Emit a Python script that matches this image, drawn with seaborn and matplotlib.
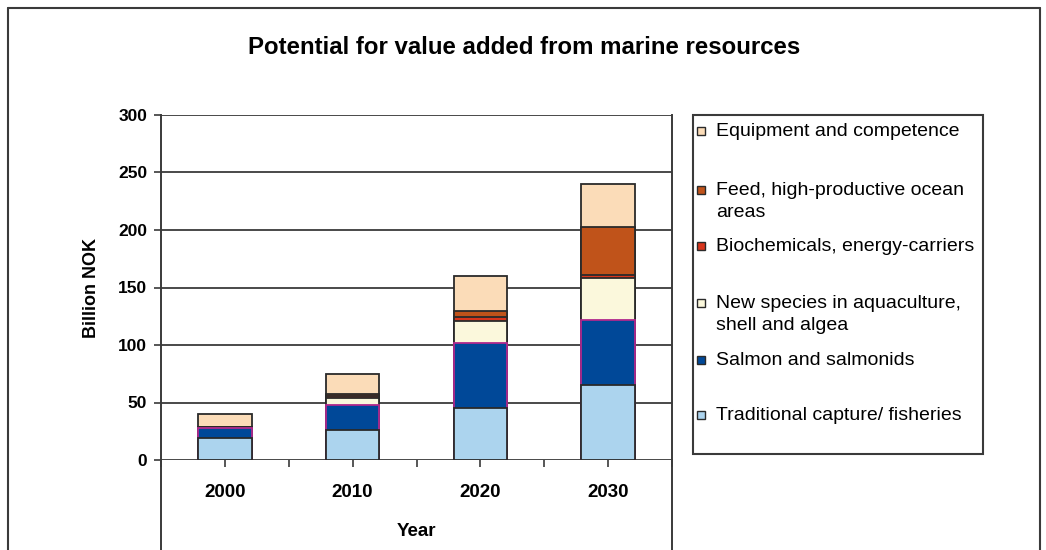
import matplotlib
matplotlib.use("Agg")
import matplotlib.pyplot as plt
from matplotlib.lines import Line2D
from matplotlib.patches import Rectangle
import pandas as pd
import seaborn as sns

# ── Data (Billion NOK) ──────────────────────────────────────────────────────
years = ["2000", "2010", "2020", "2030"]
traditional = [19, 26, 45, 65]
salmon = [9, 22, 57, 57]
new_species = [1, 6, 19, 36]
biochem = [0, 2, 3, 3]
feed = [0, 1, 6, 42]
equipment = [11, 18, 30, 37]

series_names = [
    "Traditional capture/ fisheries",
    "Salmon and salmonids",
    "New species in aquaculture,\nshell and algea",
    "Biochemicals, energy-carriers",
    "Feed, high-productive ocean\nareas",
    "Equipment and competence",
]
fills = ["#acd4ee", "#004898", "#fbf8dc", "#d8351c", "#c0531a", "#fbdcb8"]
edges = ["#2a2a2a", "#b0288c", "#2a2a2a", "#2a2a2a", "#2a2a2a", "#2a2a2a"]

W, H = 1046, 550


def fx(px):
    return px / W


def fy(py):
    return 1 - py / H


sns.set_theme(style="white")
plt.rcParams["font.family"] = ["Liberation Sans", "DejaVu Sans"]
plt.rcParams["text.color"] = "black"
plt.rcParams["axes.labelcolor"] = "black"
plt.rcParams["xtick.color"] = "black"
plt.rcParams["ytick.color"] = "black"

df = pd.DataFrame(
    [traditional, salmon, new_species, biochem, feed, equipment],
    index=series_names, columns=years,
).T
cum = df.cumsum(axis=1)

fig = plt.figure(figsize=(W / 100, H / 100), dpi=100)
ax = fig.add_axes([fx(161), fy(460), fx(672) - fx(161), fy(115) - fy(460)])

# stacked bars: draw cumulative totals from the top series down
for i in reversed(range(len(series_names))):
    sns.barplot(x=years, y=cum[series_names[i]].values, color=fills[i],
                edgecolor=edges[i], linewidth=1.3, width=0.42, saturation=1,
                errorbar=None, ax=ax, zorder=3)

ax.set_ylim(0, 300)
ax.set_xlim(-0.5, 3.5)
ax.set_yticks(range(0, 301, 50))
ax.yaxis.grid(True, color="#3a3a3a", linewidth=1.3)
ax.set_axisbelow(True)
for side in ["top", "bottom"]:
    ax.spines[side].set_visible(False)
for side in ["left", "right"]:
    ax.spines[side].set_color("#3a3a3a")
    ax.spines[side].set_linewidth(1.4)
    ax.plot([0 if side == "left" else 1] * 2, [0, -0.27], transform=ax.transAxes,
            color="#3a3a3a", linewidth=1.4, clip_on=False)

ax.set_xticks([-0.5, 0.5, 1.5, 2.5, 3.5], minor=True)
ax.tick_params(axis="x", which="both", direction="out", length=5, width=1.2,
               color="#3a3a3a", bottom=True)
ax.tick_params(axis="x", which="major", pad=12, labelsize=13.5)
ax.tick_params(axis="y", direction="out", length=5, width=1.2, color="#3a3a3a",
               left=True, pad=5, labelsize=12.5)
for lab in ax.get_xticklabels() + ax.get_yticklabels():
    lab.set_fontweight("bold")

ax.set_xlabel("Year", fontsize=13.5, fontweight="bold", labelpad=16)
ax.set_ylabel("Billion NOK", fontsize=13, fontweight="bold", labelpad=13)

# title
fig.text(fx(524), fy(47), "Potential for value added from marine resources",
         ha="center", va="center", fontsize=17.3, fontweight="bold")

# legend box
fig.add_artist(Rectangle((fx(693), fy(454)), fx(983) - fx(693), fy(115) - fy(454),
                         transform=fig.transFigure, fill=False,
                         edgecolor="#3a3a3a", linewidth=1.5))
legend_y = [131, 190, 246, 303, 360, 415]
for k, py in enumerate(legend_y):
    i = len(series_names) - 1 - k
    fig.add_artist(Rectangle((fx(697), fy(py + 4)), fx(8), 8 / H,
                             transform=fig.transFigure, facecolor=fills[i],
                             edgecolor="#2a2a2a", linewidth=1.0))
    fig.text(fx(716), fy(py - 8), series_names[i], ha="left", va="top",
             fontsize=14, linespacing=1.4)

# outer frame
for xs, ys in [([8, 8], [8, 550]), ([1040, 1040], [8, 550]), ([8, 1040], [8, 8])]:
    fig.add_artist(Line2D([fx(x) for x in xs], [fy(y) for y in ys],
                          color="#3a3a3a", linewidth=1.5))

fig.savefig("out.png", dpi=100)
